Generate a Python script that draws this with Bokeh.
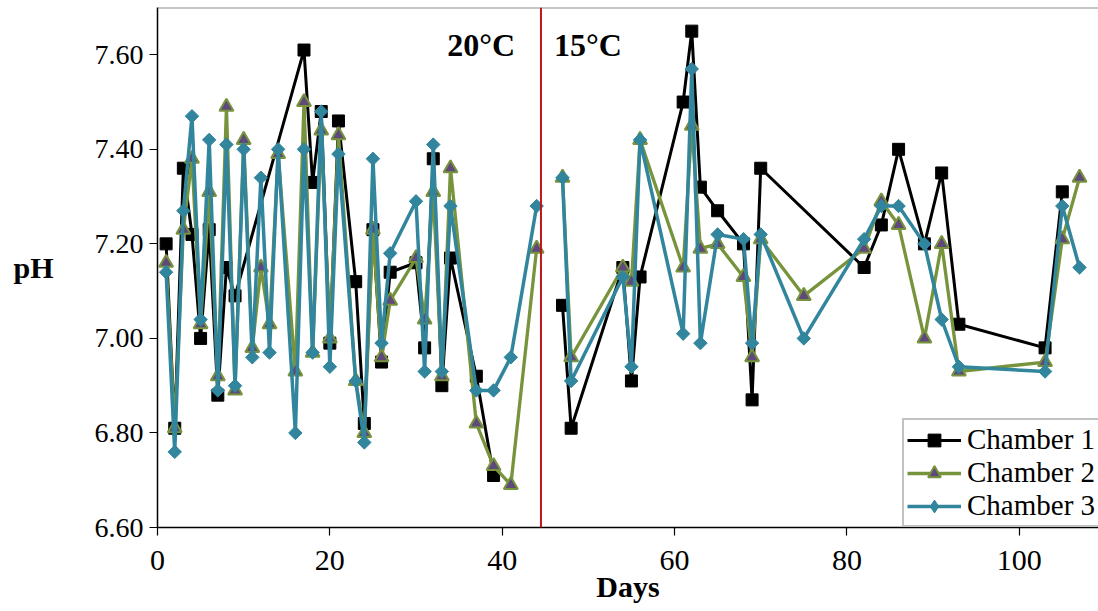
import math
from bokeh.plotting import figure
from bokeh.models import Span, Label, Legend, LegendItem, Range1d, PrintfTickFormatter, FixedTicker
from bokeh.embed import file_html
from bokeh.resources import INLINE

# ---- data ----
c1_days_20 = [1, 2, 3, 4, 5, 6, 7, 8, 9, 17, 18, 19, 20, 21, 23, 24, 25, 26, 27, 30, 31, 32, 33, 34, 37, 39]
c1_ph_20 = [7.20, 6.81, 7.36, 7.22, 7.00, 7.23, 6.88, 7.15, 7.09, 7.61, 7.33, 7.48, 6.99, 7.46, 7.12, 6.82,
            7.23, 6.95, 7.14, 7.16, 6.98, 7.38, 6.90, 7.17, 6.92, 6.71]
c1_days_15 = [47, 48, 54, 55, 56, 61, 62, 63, 65, 68, 69, 70, 82, 84, 86, 89, 91, 93, 103, 105]
c1_ph_15 = [7.07, 6.81, 7.15, 6.91, 7.13, 7.50, 7.65, 7.32, 7.27, 7.20, 6.87, 7.36, 7.15, 7.24, 7.40, 7.20,
            7.35, 7.03, 6.98, 7.31]

c23_days_20 = [1, 2, 3, 4, 5, 6, 7, 8, 9, 10, 11, 12, 13, 14, 16, 17, 18, 19, 20, 21, 23, 24, 25, 26, 27,
               30, 31, 32, 33, 34, 37, 39, 41, 44]
c2_ph_20 = [7.16, 6.81, 7.23, 7.38, 7.03, 7.31, 6.92, 7.49, 6.89, 7.42, 6.98, 7.15, 7.03, 7.39, 6.93, 7.50,
            6.97, 7.44, 7.00, 7.43, 6.91, 6.80, 7.23, 6.96, 7.08, 7.17, 7.04, 7.31, 6.92, 7.36, 6.82, 6.73,
            6.69, 7.19]
c3_ph_20 = [7.14, 6.76, 7.27, 7.47, 7.04, 7.42, 6.89, 7.41, 6.90, 7.40, 6.96, 7.34, 6.97, 7.40, 6.80, 7.40,
            6.97, 7.48, 6.94, 7.39, 6.91, 6.78, 7.38, 6.99, 7.18, 7.29, 6.93, 7.41, 6.93, 7.28, 6.89, 6.89,
            6.96, 7.28]
c23_days_15 = [47, 48, 54, 55, 56, 61, 62, 63, 65, 68, 69, 70, 75, 82, 84, 86, 89, 91, 93, 103, 105, 107]
c2_ph_15 = [7.34, 6.96, 7.15, 7.12, 7.42, 7.15, 7.45, 7.19, 7.20, 7.13, 6.96, 7.21, 7.09, 7.19, 7.29, 7.24,
            7.00, 7.20, 6.93, 6.95, 7.21, 7.34]
c3_ph_15 = [7.34, 6.91, 7.13, 6.94, 7.42, 7.01, 7.57, 6.99, 7.22, 7.21, 6.99, 7.22, 7.00, 7.21, 7.28, 7.28,
            7.20, 7.04, 6.94, 6.93, 7.28, 7.15]

x_ticks = [0, 20, 40, 60, 80, 100]
y_ticks = [6.6, 6.8, 7.0, 7.2, 7.4, 7.6]
series_names = ["Chamber 1", "Chamber 2", "Chamber 3"]
temp_labels = ["20°C", "15°C"]
switch_day = 44.5

FONT = "Liberation Serif"
BLACK = "#000000"
GREEN = "#77933C"
PURPLE = "#5F497A"
TEAL = "#31859C"

p = figure(width=1098, height=611, x_range=Range1d(0, 109.2), y_range=Range1d(6.6, 7.7),
           output_backend="svg", toolbar_location=None,
           min_border_left=157, min_border_right=0, min_border_top=7, min_border_bottom=84)
p.outline_line_color = None
p.xgrid.visible = False
p.ygrid.visible = False
p.background_fill_color = "white"

for ax in (p.xaxis[0], p.yaxis[0]):
    ax.axis_line_color = "black"
    ax.axis_line_width = 1.5
    ax.major_tick_line_color = "black"
    ax.major_tick_line_width = 1.2
    ax.major_tick_in = 0
    ax.major_tick_out = 8
    ax.minor_tick_line_color = None
    ax.major_label_text_font = FONT
    ax.major_label_text_font_size = "28px"
    ax.major_label_text_color = "black"

p.xaxis.ticker = FixedTicker(ticks=x_ticks)
p.yaxis.ticker = FixedTicker(ticks=y_ticks)
p.yaxis.formatter = PrintfTickFormatter(format="%.2f")
p.yaxis.major_label_standoff = 6
p.xaxis.major_label_text_font_size = "30px"
p.xaxis.major_label_standoff = 15
p.xaxis.axis_label = "Days"
p.xaxis.axis_label_text_font = FONT
p.xaxis.axis_label_text_font_style = "bold"
p.xaxis.axis_label_text_font_size = "30px"
p.xaxis.axis_label_standoff = -3
p.xaxis.axis_label_text_color = "black"

p.yaxis.axis_label = "pH"
p.yaxis.axis_label_text_font = FONT
p.yaxis.axis_label_text_font_style = "bold"
p.yaxis.axis_label_text_font_size = "30px"
p.yaxis.axis_label_text_color = "black"
p.yaxis.axis_label_standoff = 38
try:
    p.yaxis.axis_label_orientation = "horizontal"
except Exception:
    pass
p.yaxis.axis_label_text_baseline = "top"

# top border line
p.add_layout(Span(location=7.7, dimension="width", line_color="#8c8c8c", line_width=2))
# temperature switch line
p.add_layout(Span(location=switch_day, dimension="height", line_color="#C0151B", line_width=2))

# series
r1 = []
for d, v in ((c1_days_20, c1_ph_20), (c1_days_15, c1_ph_15)):
    r1.append(p.line(d, v, line_color=BLACK, line_width=3))
    r1.append(p.scatter(d, v, marker="square", size=12, fill_color=BLACK, line_color=BLACK))
r2 = []
for d, v in ((c23_days_20, c2_ph_20), (c23_days_15, c2_ph_15)):
    r2.append(p.line(d, v, line_color=GREEN, line_width=3.3))
    r2.append(p.scatter(d, v, marker="triangle", size=14, fill_color=PURPLE, line_color=GREEN, line_width=2))
r3 = []
# legend marker (narrow diamond), hidden under the first rotated-square marker
r3_leg = p.scatter(c23_days_20[:1], c3_ph_20[:1], marker="diamond", size=13.5, fill_color=TEAL, line_color=TEAL)
for d, v in ((c23_days_20, c3_ph_20), (c23_days_15, c3_ph_15)):
    r3.append(p.line(d, v, line_color=TEAL, line_width=3.5))
    r3.append(p.scatter(d, v, marker="square", angle=math.pi / 4, size=9.5, fill_color=TEAL, line_color=TEAL))

# annotations
p.add_layout(Label(x=41.5, y=7.583, text=temp_labels[0], text_align="right", text_font=FONT,
                   text_font_size="32px", text_font_style="bold", text_color="black"))
p.add_layout(Label(x=46.0, y=7.583, text=temp_labels[1], text_align="left", text_font=FONT,
                   text_font_size="32px", text_font_style="bold", text_color="black"))

legend = Legend(items=[LegendItem(label=series_names[0], renderers=[r1[0], r1[1]]),
                       LegendItem(label=series_names[1], renderers=[r2[0], r2[1]]),
                       LegendItem(label=series_names[2], renderers=[r3[0], r3_leg])],
                location=(745, 0))
legend.border_line_color = "#868686"
legend.border_line_width = 2
legend.padding = 3
legend.spacing = 0
legend.margin = 0
legend.glyph_width = 54
legend.glyph_height = 32
legend.label_height = 32
legend.label_standoff = 6
legend.label_text_font = FONT
legend.label_text_font_size = "29px"
legend.label_text_color = "black"
legend.background_fill_alpha = 1
p.add_layout(legend)

open("out.html", "w").write(file_html(p, INLINE))
